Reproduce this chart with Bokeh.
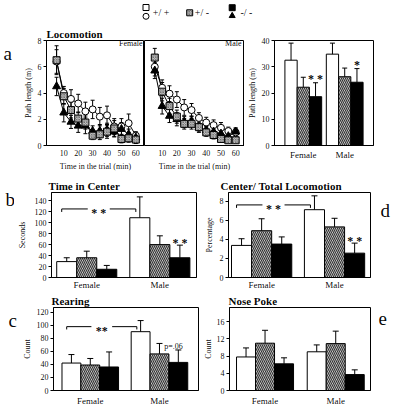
import math
from bokeh.plotting import figure
from bokeh.layouts import column, row
from bokeh.models import Range1d, FixedTicker, Label
from bokeh.embed import file_html
from bokeh.resources import INLINE

# ---------------- data ----------------
GENOTYPES = ["+/ +", "+/ -", "-/ -"]
SEXES = ["Female", "Male"]
TIME_MIN = [5, 10, 15, 20, 25, 30, 35, 40, 45, 50, 55, 60]
PANEL_LETTERS = ["a", "b", "c", "d", "e"]

# panel a: path length per 5-min bin (m)
female_wt = [6.4, 4.0, 3.55, 3.2, 2.6, 2.75, 2.2, 2.3, 1.45, 1.45, 1.7, 0.75]
female_wt_err = [0.9, 0.5, 0.7, 0.7, 0.7, 0.7, 0.7, 0.7, 0.6, 0.6, 0.7, 0.3]
female_het = [6.5, 3.75, 2.7, 2.05, 1.75, 0.75, 0.85, 1.05, 1.3, 0.5, 0.55, 0.45]
female_het_err = [1.1, 0.6, 0.6, 0.5, 0.5, 0.3, 0.4, 0.5, 0.6, 0.3, 0.3, 0.3]
female_ko = [4.5, 2.5, 1.8, 1.5, 1.5, 1.1, 1.1, 1.2, 1.05, 1.25, 0.85, 0.6]
female_ko_err = [0.7, 0.7, 0.5, 0.5, 0.6, 0.4, 0.5, 0.5, 0.4, 0.5, 0.4, 0.3]

male_wt = [6.0, 4.4, 3.95, 3.5, 2.9, 2.7, 2.1, 1.75, 1.55, 1.35, 1.1, 1.0]
male_wt_err = [0.7, 0.6, 0.6, 0.6, 0.6, 0.5, 0.4, 0.4, 0.4, 0.4, 0.3, 0.3]
male_het = [6.7, 4.1, 3.0, 2.2, 1.65, 1.65, 1.4, 1.0, 0.8, 0.5, 0.4, 0.4]
male_het_err = [0.7, 0.7, 0.6, 0.5, 0.4, 0.4, 0.3, 0.3, 0.3, 0.2, 0.2, 0.2]
male_ko = [5.7, 3.0, 2.25, 2.0, 1.8, 1.85, 1.4, 1.15, 1.05, 0.9, 0.7, 1.05]
male_ko_err = [0.6, 0.6, 0.5, 0.5, 0.4, 0.4, 0.4, 0.3, 0.3, 0.3, 0.3, 0.3]

# panel a right: total path length (m), [Female, Male]
total_wt = [32.5, 34.8]
total_wt_err = [6.5, 4.2]
total_het = [22.2, 26.2]
total_het_err = [3.8, 3.3]
total_ko = [18.6, 24.1]
total_ko_err = [5.3, 5.2]
total_sig = ["* *", "*"]

# panel b: time in center (s)
center_wt = [29, 109]
center_wt_err = [7, 38]
center_het = [36, 60]
center_het_err = [12, 16]
center_ko = [15, 36]
center_ko_err = [7, 23]

# panel d: center / total locomotion (%)
ratio_wt = [3.36, 7.1]
ratio_wt_err = [0.7, 1.45]
ratio_het = [4.9, 5.3]
ratio_het_err = [1.25, 0.9]
ratio_ko = [3.5, 2.55]
ratio_ko_err = [0.75, 1.05]

# panel c: rearing (count)
rear_wt = [42, 90]
rear_wt_err = [13, 17]
rear_het = [39, 56]
rear_het_err = [10, 16]
rear_ko = [36, 43]
rear_ko_err = [23, 19]

# panel e: nose poke (count)
poke_wt = [7.8, 9.0]
poke_wt_err = [2.1, 1.6]
poke_het = [11.0, 10.9]
poke_het_err = [3.0, 2.9]
poke_ko = [6.2, 3.7]
poke_ko_err = [1.4, 1.1]

# ---------------- styling ----------------
SERIF = "Liberation Serif"
SANS = "Liberation Sans"
HET_FILL = "#e2e2e2"
HET_HATCH = "#333333"
INK = "#000000"
TA = 0.99  # text alpha


def make_fig(width, height, left, right, top, bottom, xr, yr):
    p = figure(width=width, height=height, x_range=xr, y_range=yr,
               output_backend="svg", toolbar_location=None,
               min_border_left=left, min_border_right=right,
               min_border_top=top, min_border_bottom=bottom)
    p.grid.visible = False
    p.outline_line_color = INK
    p.outline_line_width = 1
    p.outline_line_alpha = 1
    p.background_fill_color = "white"
    p.border_fill_color = "white"
    for ax in p.axis:
        ax.major_label_text_font = SERIF
        ax.major_label_text_font_size = "8px"
        ax.major_label_text_color = INK
        ax.major_label_text_alpha = TA
        ax.axis_line_color = INK
        ax.major_tick_line_color = INK
        ax.minor_tick_line_color = None
        ax.major_tick_in = 0
        ax.major_tick_out = 3
        ax.major_label_standoff = 2
        ax.axis_label_text_font = SERIF
        ax.axis_label_text_font_size = "8px"
        ax.axis_label_text_font_style = "normal"
        ax.axis_label_text_color = INK
        ax.axis_label_text_alpha = TA
    return p


def set_title(p, text, offset):
    p.title.text = text
    p.title.text_font = SERIF
    p.title.text_font_size = "11px"
    p.title.text_font_style = "bold"
    p.title.text_color = INK
    p.title.text_alpha = TA
    p.title.align = "left"
    p.title.offset = offset
    p.title.standoff = 1


def letter_fig(width, height, x0, y0, px, py, letter):
    f = figure(width=width, height=height, x_range=Range1d(x0, x0 + width),
               y_range=Range1d(y0 + height, y0), output_backend="svg",
               toolbar_location=None, min_border=0)
    f.axis.visible = False
    f.grid.visible = False
    f.outline_line_color = None
    f.text(x=[px], y=[py], text=[letter], text_font=SERIF, text_font_size="19px",
           text_baseline="alphabetic", text_align="left", text_color=INK, text_alpha=TA)
    return f


def inner_label(p, frame, px, py, text, align="right"):
    fl, fb = frame
    p.add_layout(Label(x=px - fl, y=fb - py, x_units="screen", y_units="screen",
                       text=text, text_font=SERIF, text_font_size="8px",
                       text_align=align, text_baseline="middle", text_color=INK,
                       text_alpha=TA))


def draw_series(p, xs, ys, errs):
    lo = [y - e for y, e in zip(ys, errs)]
    hi = [y + e for y, e in zip(ys, errs)]
    p.line(xs, ys, line_color=INK, line_width=1)
    p.segment(x0=xs, y0=lo, x1=xs, y1=hi, line_color=INK, line_width=1)
    p.scatter(x=xs + xs, y=lo + hi, marker="dash", size=4, line_color=INK,
              fill_color=None, line_width=1)


def draw_markers(p, xs, ys, kind, size=7):
    if kind == 0:
        p.scatter(xs, ys, marker="circle", size=size, fill_color="white", line_color=INK, line_width=1)
    elif kind == 1:
        p.scatter(xs, ys, marker="square", size=size, fill_color="#c4c4c4", line_color=INK,
                  line_width=1, hatch_pattern="x", hatch_color="#505050", hatch_scale=2.5, hatch_weight=0.6)
    else:
        p.scatter(xs, ys, marker="triangle", size=size + 1, fill_color=INK, line_color=INK)


def line_panel(p, series):
    for ys, es in series:
        draw_series(p, TIME_MIN, ys, es)
    for k in (0, 2, 1):
        draw_markers(p, TIME_MIN, series[k][0], k)


def bar_x(k, g, gap):
    return g * (3 + gap) + k + 0.5


def bar_panel(p, means, errs, gap, cap=6):
    styles = [dict(fill_color="white"),
              dict(fill_color=HET_FILL, hatch_pattern="\\", hatch_color=HET_HATCH,
                   hatch_scale=4, hatch_weight=1.2),
              dict(fill_color=INK)]
    for k in range(3):
        xs = [bar_x(k, g, gap) for g in range(len(SEXES))]
        m, e = means[k], errs[k]
        tops = [a + b for a, b in zip(m, e)]
        p.vbar(x=xs, top=m, bottom=0, width=1, line_color=INK, line_width=1, **styles[k])
        p.segment(x0=xs, y0=m, x1=xs, y1=tops, line_color=INK, line_width=1)
        p.scatter(x=xs, y=tops, marker="dash", size=cap, line_color=INK, fill_color=None, line_width=1)
    centers = [bar_x(1, g, gap) for g in range(len(SEXES))]
    p.xaxis.ticker = FixedTicker(ticks=centers)
    p.xaxis.major_label_overrides = {c: s for c, s in zip(centers, SEXES)}
    p.xaxis.major_tick_out = 0
    p.xaxis.major_label_text_font_size = "9px"


def bracket(p, gap, y, drop, label, x_off1=-0.25, x_off2=-0.2, half=0.55):
    x1 = bar_x(0, 0, gap) + x_off1
    x2 = bar_x(0, 1, gap) + x_off2
    xm = (x1 + x2) / 2
    p.segment(x0=[x1, xm + half, x1, x2], y0=[y, y, y, y],
              x1=[xm - half, x2, x1, x2], y1=[y, y, y - drop, y - drop],
              line_color=INK, line_width=1)
    p.add_layout(Label(x=xm, y=y, text=label, text_font=SERIF, text_font_size="12px",
                       text_font_style="bold", text_align="center", text_baseline="middle",
                       y_offset=-4, text_color=INK, text_alpha=TA))


def sig(p, x, y, text, size="12px", style="bold"):
    p.add_layout(Label(x=x, y=y, text=text, text_font=SERIF, text_font_size=size,
                       text_font_style=style, text_align="center", text_baseline="middle",
                       text_color=INK, text_alpha=TA))


# ---------------- legend row ----------------
leg = figure(width=403, height=23, x_range=Range1d(0, 403), y_range=Range1d(23, 0),
             output_backend="svg", toolbar_location=None, min_border=0)
leg.axis.visible = False
leg.grid.visible = False
leg.outline_line_color = None
LEG_X = [145.5, 189.2, 231.7]
leg.scatter([LEG_X[0]], [7], marker="square", size=6, fill_color="white", line_color=INK)
leg.scatter([LEG_X[0]], [15.8], marker="circle", size=6, fill_color="white", line_color=INK)
leg.scatter([LEG_X[1]], [12.3], marker="square", size=6, fill_color="#c4c4c4", line_color=INK,
            hatch_pattern="x", hatch_color="#505050", hatch_scale=2.5, hatch_weight=0.6)
leg.scatter([LEG_X[2]], [7.2], marker="square", size=6, fill_color=INK, line_color=INK)
leg.scatter([LEG_X[2]], [15.3], marker="triangle", size=6, fill_color=INK, line_color=INK)
leg.text(x=[152.3, 194.3, 240.0], y=[11.5, 12.0, 11.5], text=GENOTYPES,
         text_font=SANS, text_font_size="10px", text_baseline="middle", text_color=INK,
         text_alpha=TA)

# ---------------- row 1: panel a ----------------
ROW1_Y, ROW1_H = 23, 150
la = letter_fig(20, ROW1_H, 0, ROW1_Y, 3, 41, PANEL_LETTERS[0])

pa1 = make_fig(124, ROW1_H, 25, 0, 17, 26, Range1d(-2, 66), Range1d(0, 8))
pa1.yaxis.ticker = FixedTicker(ticks=[0, 2, 4, 6, 8])
pa1.xaxis.ticker = FixedTicker(ticks=[10, 20, 30, 40, 50, 60])
pa1.xaxis.major_tick_out = 0
pa1.xaxis.major_label_standoff = 4
pa1.yaxis.axis_label = "Path length (m)"
pa1.yaxis.axis_label_standoff = 2
pa1.xaxis.axis_label = "Time in the trial (min)"
pa1.xaxis.axis_label_standoff = 3
set_title(pa1, "Locomotion", 0)
line_panel(pa1, [(female_wt, female_wt_err), (female_het, female_het_err), (female_ko, female_ko_err)])
inner_label(pa1, (45, 147), 141, 44.5, "Female")

pa2 = make_fig(100, ROW1_H, 0, 0, 17, 26, Range1d(-2, 66), Range1d(0, 8))
pa2.yaxis.visible = False
pa2.xaxis.ticker = FixedTicker(ticks=[10, 20, 30, 40, 50, 60])
pa2.xaxis.major_tick_out = 0
pa2.xaxis.major_label_standoff = 4
pa2.xaxis.axis_label = "Time in the trial (min)"
pa2.xaxis.axis_label_standoff = 3
line_panel(pa2, [(male_wt, male_wt_err), (male_het, male_het_err), (male_ko, male_ko_err)])
inner_label(pa2, (144, 147), 241, 44.7, "Male")

GAP_A = 0.38
pa3 = make_fig(159, ROW1_H, 25, 30, 17, 27, Range1d(-0.85, 6 + GAP_A + 0.85), Range1d(0, 40))
pa3.yaxis.ticker = FixedTicker(ticks=[0, 10, 20, 30, 40])
pa3.yaxis.axis_label = "Path length (m)"
pa3.yaxis.axis_label_standoff = 2
bar_panel(pa3, [total_wt, total_het, total_ko], [total_wt_err, total_het_err, total_ko_err], GAP_A, cap=5)
pa3.xaxis.major_label_standoff = 4
for g in range(2):
    top = total_ko[g] + total_ko_err[g]
    sig(pa3, bar_x(2, g, GAP_A), top + 1.3, total_sig[g])

# ---------------- row 2: panels b, d ----------------
ROW2_Y, ROW2_H = 173, 119
lb = letter_fig(14, ROW2_H, 0, ROW2_Y, 5, 183, PANEL_LETTERS[1])

GAP_B = 0.65
pb = make_fig(186, ROW2_H, 34, 4, 19, 14, Range1d(-0.26, 6 + GAP_B + 0.33), Range1d(0, 155))
pb.yaxis.ticker = FixedTicker(ticks=[0, 20, 40, 60, 80, 100, 120, 140])
pb.yaxis.axis_label = "Seconds"
pb.yaxis.axis_label_standoff = 5
set_title(pb, "Time in Center", -3)
bar_panel(pb, [center_wt, center_het, center_ko], [center_wt_err, center_het_err, center_ko_err], GAP_B)
pb.xaxis.major_label_standoff = 2
bracket(pb, GAP_B, 125, 5.5, "* *")
sig(pb, bar_x(2, 1, GAP_B), 63, "* *")

GAP_D = 0.63
pd_ = make_fig(173, ROW2_H, 28, 3, 19, 14, Range1d(-0.15, 6 + GAP_D + 0.29), Range1d(0, 8.9))
pd_.yaxis.ticker = FixedTicker(ticks=[0, 2, 4, 6, 8])
pd_.yaxis.axis_label = "Percentage"
pd_.yaxis.axis_label_standoff = 3
set_title(pd_, "Center/ Total Locomotion", -8)
bar_panel(pd_, [ratio_wt, ratio_het, ratio_ko], [ratio_wt_err, ratio_het_err, ratio_ko_err], GAP_D)
pd_.xaxis.major_label_standoff = 2
bracket(pd_, GAP_D, 7.6, 0.31, "* *")
sig(pd_, bar_x(2, 1, GAP_D), 3.85, "* *")

ld = letter_fig(30, ROW2_H, 373, ROW2_Y, 380, 198, PANEL_LETTERS[3])

# ---------------- row 3: panels c, e ----------------
ROW3_Y, ROW3_H = 292, 116
lc = letter_fig(19, ROW3_H, 0, ROW3_Y, 8, 310, PANEL_LETTERS[2])

GAP_C = 0.67
pc = make_fig(181, ROW3_H, 26, 2, 11, 16, Range1d(-0.45, 6 + GAP_C + 0.57), Range1d(0, 127))
pc.yaxis.ticker = FixedTicker(ticks=[0, 20, 40, 60, 80, 100, 120])
pc.yaxis.axis_label = "Count"
pc.yaxis.axis_label_standoff = 2
set_title(pc, "Rearing", -2)
bar_panel(pc, [rear_wt, rear_het, rear_ko], [rear_wt_err, rear_het_err, rear_ko_err], GAP_C)
pc.xaxis.major_label_standoff = 5
bracket(pc, GAP_C, 97.7, 4.3, "**")
sig(pc, bar_x(2, 1, GAP_C) - 0.25, 67, "p=.06", size="8px", style="normal")

GAP_E = 0.72
pe = make_fig(173, ROW3_H, 22, 3, 15, 16, Range1d(-0.37, 6 + GAP_E + 0.33), Range1d(0, 19.3))
pe.yaxis.ticker = FixedTicker(ticks=[0, 4, 8, 12, 16])
pe.yaxis.axis_label = "Count"
pe.yaxis.axis_label_standoff = 1
set_title(pe, "Nose Poke", -1)
bar_panel(pe, [poke_wt, poke_het, poke_ko], [poke_wt_err, poke_het_err, poke_ko_err], GAP_E)
pe.xaxis.major_label_standoff = 5

le = letter_fig(30, ROW3_H, 373, ROW3_Y, 378, 308, PANEL_LETTERS[4])

layout = column(leg, row(la, pa1, pa2, pa3), row(lb, pb, pd_, ld), row(lc, pc, pe, le))

open("out.html", "w").write(file_html(layout, INLINE))
